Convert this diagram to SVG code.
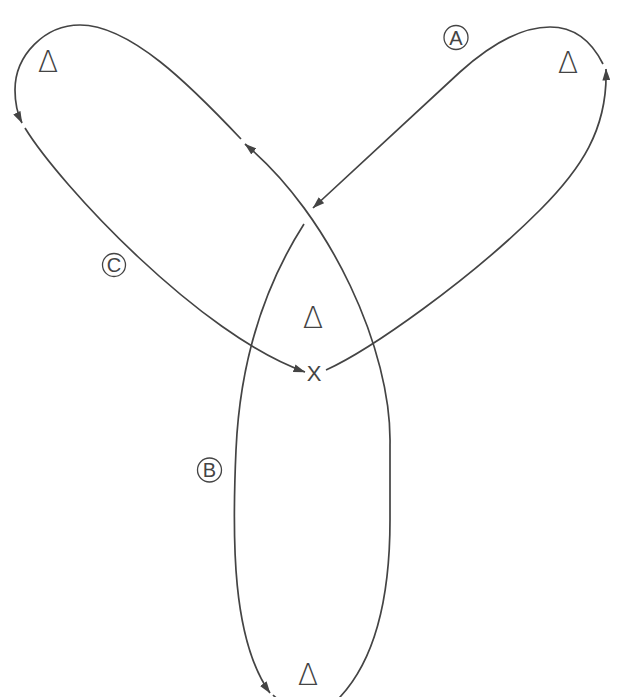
<svg xmlns="http://www.w3.org/2000/svg" width="632" height="697" viewBox="0 0 632 697">
<style>
.ln{fill:none;stroke:#444;stroke-width:1.7;stroke-linecap:butt}
.lm{marker-end:url(#ah)}
.sym{font-family:"DejaVu Sans","Liberation Sans",Arial,sans-serif;fill:#444;text-anchor:middle}
.tri{font-size:30px;font-weight:200}
.cx{font-family:"Liberation Sans",Arial,sans-serif;font-size:22px}
.lt{font-family:"Liberation Sans",Arial,sans-serif;font-size:20px}
.ring{fill:none;stroke:#444;stroke-width:1.3}
</style>
<defs>
<marker id="ah" viewBox="0 0 12 8" refX="11.5" refY="4" markerWidth="12" markerHeight="8" markerUnits="userSpaceOnUse" orient="auto">
<path d="M0,0 L12,4 L0,8 z" fill="#444"/>
</marker>
</defs>
<rect width="632" height="697" fill="#fff"/>
<g id="connectors">
<path class="ln lm" d="M326,370 C370,350 470,280 540,210 C580,170 608,130 606,69"/>
<path class="ln lm" d="M603,64 C590,38 572,27 550,27 C520,27 490,45 460,72 L313,208"/>
<path class="ln lm" d="M304,224 C265,285 240,360 236,450 C232,540 232,640 270,693"/>
<path class="ln lm" d="M273,695 C290,712 326,712 340,697 C370,665 390,610 390,520 L390,445 C392,350 330,215 245,144"/>
<path class="ln lm" d="M241,139 C190,85 130,25 80,25 C45,25 15,55 15,90 C15,105 18,115 22,123"/>
<path class="ln lm" d="M25,128 C60,185 200,335 305,372"/>
</g>
<g id="tri-C"><text class="sym tri" x="48" y="72">Δ</text></g>
<g id="tri-A"><text class="sym tri" x="568" y="73">Δ</text></g>
<g id="tri-center"><text class="sym tri" x="313" y="328">Δ</text></g>
<g id="tri-B"><text class="sym tri" x="308" y="685">Δ</text></g>
<g id="x-point"><text class="sym cx" x="314" y="381">X</text></g>
<g id="label-A"><circle class="ring" cx="456" cy="37.5" r="12"/><text class="sym lt" x="456" y="44.5">A</text></g>
<g id="label-B"><circle class="ring" cx="209.5" cy="470" r="12"/><text class="sym lt" x="209.5" y="477">B</text></g>
<g id="label-C"><circle class="ring" cx="114" cy="265" r="11.5"/><text class="sym lt" x="114" y="272">C</text></g>
</svg>
